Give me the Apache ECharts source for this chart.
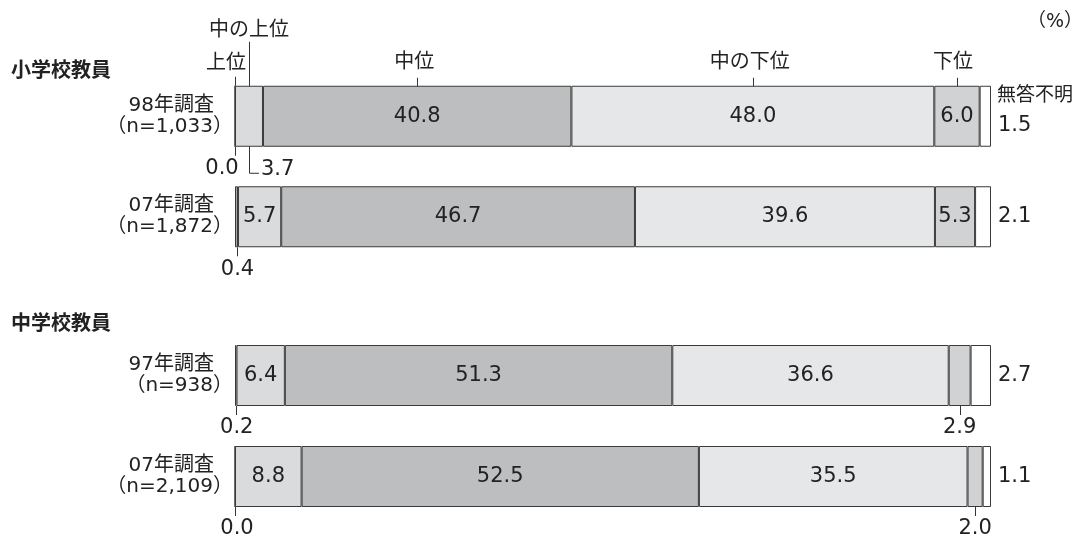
<!DOCTYPE html>
<html>
<head>
<meta charset="utf-8">
<script src="https://cdn.jsdelivr.net/npm/echarts@6/dist/echarts.min.js"></script>
<style>
html,body{margin:0;padding:0;background:#fff;}
#chart{width:1075px;height:537px;}
</style>
</head>
<body>
<div id="chart"></div>
<script>
// ---- data ----
const categories = ['上位', '中の上位', '中位', '中の下位', '下位', '無答不明'];
const groupTitles = ['小学校教員', '中学校教員'];
const elemRowLabels = ['98年調査\n（n=1,033）', '07年調査\n（n=1,872）'];
const juniorRowLabels = ['97年調査\n（n=938）', '07年調査\n（n=2,109）'];
const elem98 = [0.0, 3.7, 40.8, 48.0, 6.0, 1.5];
const elem07 = [0.4, 5.7, 46.7, 39.6, 5.3, 2.1];
const junior97 = [0.2, 6.4, 51.3, 36.6, 2.9, 2.7];
const junior07 = [0.0, 8.8, 52.5, 35.5, 2.0, 1.1];
const unitLabel = '（%）';

// ---- style / layout ----
const FONT = '"DejaVu Sans", "Noto Sans CJK JP", sans-serif';
const TXT = '#222';
const colors = ['#a5a6a8', '#dadbdd', '#bdbec0', '#e6e7e8', '#d1d2d4', '#ffffff'];
const BAR_W = 61;
const NUM_SIZE = 21;
const JP_SIZE = 20;
const groups = [
  { labels: elemRowLabels, rows: [elem98, elem07] },
  { labels: juniorRowLabels, rows: [junior97, junior07] }
];

const grids = [
  { left: 235, right: 84, top: 66, height: 201 },
  { left: 235, right: 84, top: 325, height: 202 }
];

const xAxes = [], yAxes = [], series = [];
groups.forEach((grp, g) => {
  xAxes.push({ type: 'value', gridIndex: g, min: 0, max: 100, show: false });
  yAxes.push({
    type: 'category', gridIndex: g, inverse: true, data: grp.labels,
    axisLine: { show: false }, axisTick: { show: false }, splitLine: { show: false },
    axisLabel: {
      margin: 2, align: 'right', lineHeight: 21,
      formatter: v => { const p = v.split('\n'); return '{a|' + p[0] + '}\n{b|' + p[1] + '}'; },
      rich: {
        a: { fontFamily: FONT, fontSize: JP_SIZE, color: TXT, lineHeight: 21, padding: [0, 19, 0, 0] },
        b: { fontFamily: FONT, fontSize: JP_SIZE, color: TXT, lineHeight: 21 }
      }
    }
  });
  const totals = grp.rows.map(r => r.reduce((a, b) => a + b, 0));
  categories.forEach((c, s) => {
    series.push({
      type: 'bar', name: c, stack: 'g' + g, xAxisIndex: g, yAxisIndex: g,
      barWidth: BAR_W,
      itemStyle: { color: colors[s], borderColor: '#3a3a3a', borderWidth: 1 },
      label: {
        show: true, position: 'inside', fontFamily: FONT, fontSize: NUM_SIZE, color: TXT,
        formatter: p => (p.data.raw >= 5 ? p.data.raw.toFixed(1) : '')
      },
      emphasis: { disabled: true },
      data: grp.rows.map((r, i) => ({ value: r[s] * 100 / totals[i], raw: r[s] }))
    });
  });
});

const chart = echarts.init(document.getElementById('chart'), null, { renderer: 'canvas' });
chart.setOption({
  animation: false,
  backgroundColor: '#fff',
  grid: grids,
  xAxis: xAxes,
  yAxis: yAxes,
  series: series
});

// ---- annotations positioned through the chart's own scales ----
function seg(g, r, s) {
  const row = groups[g].rows[r];
  const tot = row.reduce((a, b) => a + b, 0);
  let start = 0;
  for (let k = 0; k < s; k++) start += row[k] * 100 / tot;
  const end = start + row[s] * 100 / tot;
  const p1 = chart.convertToPixel({ gridIndex: g }, [end, r]);
  const pc = chart.convertToPixel({ gridIndex: g }, [(start + end) / 2, r]);
  return { x1: p1[0], xc: pc[0], yc: pc[1], top: pc[1] - BAR_W / 2, bottom: pc[1] + BAR_W / 2 };
}
const gfx = [];
function text(t, x, y, align, size, weight) {
  gfx.push({
    type: 'text', silent: true,
    style: {
      text: t, x: x, y: y, fill: TXT,
      font: (weight || 'normal') + ' ' + size + 'px ' + FONT,
      align: align || 'center', textAlign: align || 'center',
      verticalAlign: 'middle', textVerticalAlign: 'middle'
    }
  });
}
function line(pts) {
  gfx.push({ type: 'polyline', silent: true, shape: { points: pts }, style: { stroke: '#333', lineWidth: 1, fill: null } });
}
const h = v => Math.round(v) + 0.5;

// headers above first row
const headerLayout = [
  { dx: -9, textDy: -22, lineFrom: -9, lineTo: 0 },
  { dx: 0, textDy: -55, lineFrom: -44, lineTo: 5 },
  { dx: -3, textDy: -23, lineFrom: -8, lineTo: 5 },
  { dx: -3, textDy: -23, lineFrom: -8, lineTo: 5 },
  { dx: -4, textDy: -23, lineFrom: -8, lineTo: 5 },
  { right: true, textDy: 10.5 }
];
headerLayout.forEach((L, s) => {
  const sg = seg(0, 0, s);
  if (L.right) {
    text(categories[s], sg.x1 + 6, sg.top + L.textDy, 'left', 19);
  } else {
    text(categories[s], sg.xc + L.dx, sg.top + L.textDy, 'center', JP_SIZE);
    line([[h(sg.xc), sg.top + L.lineFrom], [h(sg.xc), sg.top + L.lineTo]]);
  }
});

// callouts below bars for small segments
const belowCallouts = [
  { g: 0, r: 0, s: 0, dx: -13 },
  { g: 0, r: 0, s: 1, elbow: true },
  { g: 0, r: 1, s: 0, dx: 1 },
  { g: 1, r: 0, s: 0, dx: 1 },
  { g: 1, r: 0, s: 4, dx: 0 },
  { g: 1, r: 1, s: 0, dx: 2 },
  { g: 1, r: 1, s: 4, dx: 0 }
];
belowCallouts.forEach(c => {
  const sg = seg(c.g, c.r, c.s);
  const val = groups[c.g].rows[c.r][c.s].toFixed(1);
  if (c.elbow) {
    line([[h(sg.xc), sg.bottom - 3], [h(sg.xc), sg.bottom + 26.5], [sg.xc + 10, sg.bottom + 26.5]]);
    text(val, sg.xc + 12, sg.bottom + 23, 'left', NUM_SIZE);
  } else {
    line([[h(sg.xc), sg.bottom - (c.s === 0 ? 0 : 3)], [h(sg.xc), sg.bottom + 9]]);
    text(val, sg.xc + c.dx, sg.bottom + 22, 'center', NUM_SIZE);
  }
});

// 無答不明 values to the right of each bar
groups.forEach((grp, g) => {
  grp.rows.forEach((row, r) => {
    const sg = seg(g, r, 5);
    text(row[5].toFixed(1), sg.x1 + 7, sg.yc + (g === 0 && r === 0 ? 9 : 0), 'left', NUM_SIZE);
  });
});

// group titles and unit
const t0 = seg(0, 0, 0), t1 = seg(1, 0, 0);
text(groupTitles[0], 11, t0.top - 14, 'left', 20, 'bold');
text(groupTitles[1], 11, t1.top - 20, 'left', 20, 'bold');
text(unitLabel, 1027, 22, 'left', 19);

chart.setOption({ graphic: gfx });
</script>
</body>
</html>
